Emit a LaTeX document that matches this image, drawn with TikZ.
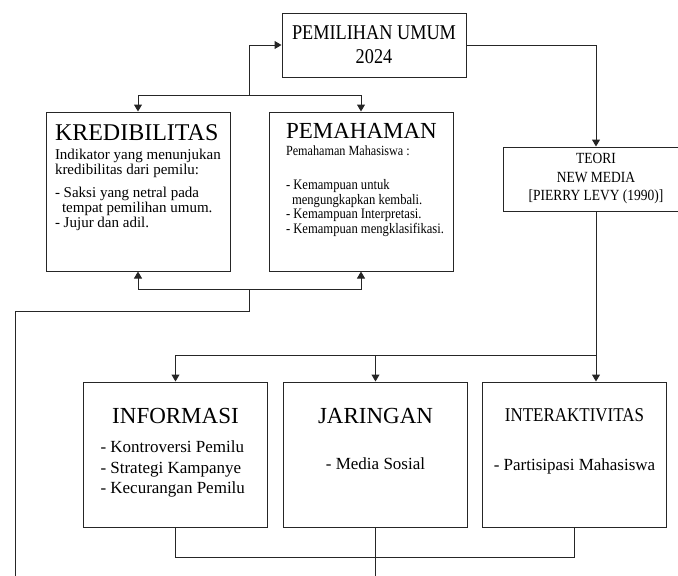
\documentclass[tikz,border=0pt]{standalone}
\usepackage{fontspec}
\setmainfont{Liberation Serif}
\newfontfamily\narrowserif{Liberation Serif}[FakeStretch=0.87]
\usetikzlibrary{arrows.meta, positioning, calc}
\newcommand{\fsz}[2]{\fontsize{#1}{#2}\selectfont}

\begin{document}
\begin{tikzpicture}[
  x=1pt, y=-1pt,
  topic/.style={rectangle, draw=black!85, line width=1pt, align=center,
                minimum width=184pt, minimum height=64pt, inner sep=0pt},
  aspect/.style={rectangle, draw=black!85, line width=1pt, inner sep=0pt},
  arrow/.style={-{Triangle[length=7pt, width=8pt]}, line width=1pt, draw=black!85},
  link/.style={line width=1pt, draw=black!85},
]
\useasboundingbox (0,0) rectangle (678,576);
\clip (0,0) rectangle (678,576);

\node[topic, font=\narrowserif\fsz{21}{24}] (pemilu) at (374,45) {PEMILIHAN UMUM\\2024};
\node[aspect] (kred) at (138,191.5) {\parbox[c][159pt][t]{184pt}{\raggedright\leftskip=9pt
  \vspace*{12pt}
  {\fsz{24}{24}\rule{0pt}{16pt}KREDIBILITAS\par}
  \vspace{4.5pt}
  {\fsz{15}{15}Indikator yang menunjukan\\kredibilitas dari pemilu:\par}
  \vspace{7.5pt}
  {\fsz{15}{15}- Saksi yang netral pada\\\hspace*{7pt}tempat pemilihan umum.\\- Jujur dan adil.\par}}};
\node[aspect, right=38pt of kred] (pem) {\parbox[c][159pt][t]{184pt}{\raggedright\leftskip=17pt
  \vspace*{11pt}
  {\fsz{23}{23}\rule{0pt}{15.5pt}PEMAHAMAN\par}
  \vspace{2.5pt}
  {\narrowserif\fsz{14}{14}Pemahaman Mahasiswa :\par}
  \vspace{20pt}
  {\narrowserif\fsz{14.5}{14.5}- Kemampuan untuk\\\hspace*{6pt}mengungkapkan kembali.\\- Kemampuan Interpretasi.\\- Kemampuan mengklasifikasi.\par}}};
\node[topic, minimum width=186pt, font=\narrowserif\fsz{15.5}{18.5}] (teori) at (596,179)
  {TEORI\\NEW MEDIA\\{[PIERRY LEVY (1990)]}};

\node[aspect] (info) at (175.5,454.5) {\parbox[c][145pt][t]{184pt}{
  \vspace*{26pt}
  {\centering\fsz{23}{23}\rule{0pt}{15.5pt}INFORMASI\par}
  \vspace{8.5pt}
  {\raggedright\leftskip=17pt\fsz{17}{20.5}- Kontroversi Pemilu\\- Strategi Kampanye\\- Kecurangan Pemilu\par}}};
\node[aspect, right=15pt of info] (jar) {\parbox[c][145pt][t]{184pt}{\centering
  \vspace*{26pt}
  {\fsz{23}{23}\rule{0pt}{15.5pt}JARINGAN\par}
  \vspace{25.5pt}
  {\fsz{17}{20.5}- Media Sosial\par}}};
\node[aspect, right=14pt of jar] (inter) {\parbox[c][145pt][t]{184pt}{\centering
  \vspace*{26pt}
  {\narrowserif\fsz{19.5}{19.5}\rule{0pt}{13pt}INTERAKTIVITAS\par}
  \vspace{29pt}
  {\fsz{17}{20.5}- Partisipasi Mahasiswa\par}}};

% upper loop
\coordinate (jtop) at ($(kred.north east)!0.5!(pem.north west)+(0,-16)$);
\draw[arrow] (jtop) |- (pemilu.west);
\draw[arrow] (jtop) -| (kred.north);
\draw[arrow] (jtop) -| (pem.north);
\draw[arrow] (pemilu.east) -| (teori.north);

\coordinate (jbot) at ($(kred.south east)!0.5!(pem.south west)+(0,18)$);
\coordinate (lout) at (15,576);
\draw[arrow] (jbot) -| (kred.south);
\draw[arrow] (jbot) -| (pem.south);
\draw[link] (jbot) -- ++(0,22) -| (lout);

% new media elements
\coordinate (jmid) at ($(teori.south)+(0,144)$);
\draw[link] (teori.south) -- (jmid);
\draw[arrow] (jmid) -- (jmid |- inter.north);
\draw[arrow] (jmid) -| (info.north);
\draw[arrow] (jmid) -| (jar.north);

\coordinate (jlow) at ($(jar.south)+(0,30)$);
\coordinate (bout) at ($(jar.south)+(0,49)$);
\draw[link] (info.south) |- (jlow) -| (inter.south);
\draw[link] (jar.south) -- (bout);
\end{tikzpicture}
\end{document}
